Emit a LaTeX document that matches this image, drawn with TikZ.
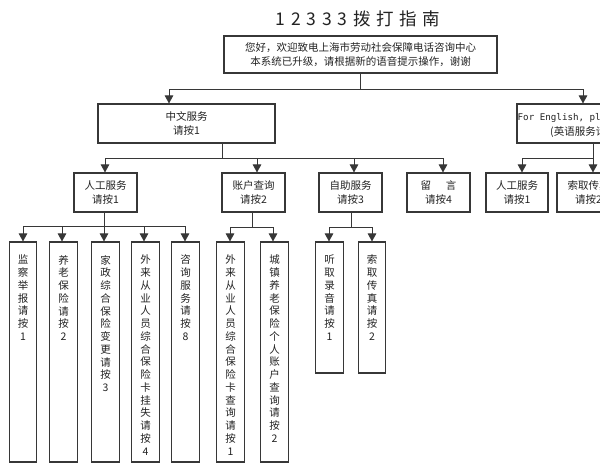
\documentclass[tikz,border=0pt]{standalone}
\usepackage{fontspec}
\setmainfont{Noto Sans CJK SC}
\newfontfamily\cjk{Noto Sans CJK SC}
\newfontfamily\engmono{DejaVu Sans Mono}
\usetikzlibrary{arrows.meta}
\definecolor{linec}{RGB}{55,55,55}
\definecolor{txtc}{RGB}{35,35,35}
\newcommand\tk{\kern5.8pt}
\begin{document}
\begin{tikzpicture}[x=1pt,y=-1pt,
  box/.style={draw=linec,line width=1.1pt,inner sep=0pt,minimum width=63pt,minimum height=39pt,align=center,text=txtc,font=\cjk\fontsize{10.5}{14}\selectfont},
  leaf/.style={draw=linec,line width=1.1pt,inner sep=0pt,minimum width=27.5pt,minimum height=220pt},
  vt/.style={inner sep=0pt,align=center,text=txtc,anchor=north,font=\cjk\fontsize{10.5}{12.75}\selectfont},
  conn/.style={draw=linec,line width=0.9pt},
  arr/.style={conn,-{Triangle[length=8pt,width=8.5pt]}}]
\useasboundingbox (0,0) rectangle (600,472);
\clip (0,0) rectangle (600,472);
\fill[white] (0,0) rectangle (600,472);

% title
\node[font=\cjk\fontsize{17.5}{17.5}\selectfont,text=txtc] (title) at (358,19) {1\tk 2\tk 3\tk 3\tk 3\tk 拨\tk 打\tk 指\tk 南};

% top box
\node[box,minimum width=273pt,minimum height=37pt] (top) at (360.5,54.5) {您好，欢迎致电上海市劳动社会保障电话咨询中心\\本系统已升级，请根据新的语音提示操作，谢谢};

% level 1
\node[box,minimum width=177pt] (cn) at (186.5,123.5) {中文服务\\请按1};
\node[box,minimum width=148pt] (en) at (591,123.5) {};
\node[anchor=west,inner sep=0pt,font=\engmono\fontsize{9.2}{10}\selectfont,text=txtc] (entxt1) at (517.5,118) {For English, ple};
\node[anchor=west,inner sep=0pt,font=\cjk\fontsize{10.5}{14}\selectfont,text=txtc] (entxt2) at (550,132) {(英语服务请};

% level 2
\node[box] (r1) at (105.5,192.5) {人工服务\\请按1};
\node[box] (r2) at (253.5,192.5) {账户查询\\请按2};
\node[box] (r3) at (350.5,192.5) {自助服务\\请按3};
\node[box] (r4) at (438.5,192.5) {留\hspace{15pt}言\\请按4};
\node[box,minimum width=62pt] (r5) at (517,192.5) {人工服务\\请按1};
\node[box] (r6) at (588.5,192.5) {索取传真\\请按2};

% leaves
\node[leaf] (L1) at (23,352) {};
\node[leaf] (L2) at (63.5,352) {};
\node[leaf] (L3) at (105.5,352) {};
\node[leaf] (L4) at (145.5,352) {};
\node[leaf] (L5) at (185.5,352) {};
\node[leaf] (L6) at (230.5,352) {};
\node[leaf] (L7) at (274.5,352) {};
\node[leaf,minimum height=131pt] (L8) at (329.5,307.5) {};
\node[leaf,minimum height=131pt] (L9) at (372,307.5) {};

\node[vt] (t1) at ([yshift=-13.5pt]L1.north) {监\\察\\举\\报\\请\\按\\1};
\node[vt] (t2) at ([yshift=-13.5pt]L2.north) {养\\老\\保\\险\\请\\按\\2};
\node[vt] (t3) at ([yshift=-13.5pt]L3.north) {家\\政\\综\\合\\保\\险\\变\\更\\请\\按\\3};
\node[vt] (t4) at ([yshift=-13.5pt]L4.north) {外\\来\\从\\业\\人\\员\\综\\合\\保\\险\\卡\\挂\\失\\请\\按\\4};
\node[vt] (t5) at ([yshift=-13.5pt]L5.north) {咨\\询\\服\\务\\请\\按\\8};
\node[vt] (t6) at ([yshift=-13.5pt]L6.north) {外\\来\\从\\业\\人\\员\\综\\合\\保\\险\\卡\\查\\询\\请\\按\\1};
\node[vt] (t7) at ([yshift=-13.5pt]L7.north) {城\\镇\\养\\老\\保\\险\\个\\人\\账\\户\\查\\询\\请\\按\\2};
\node[vt] (t8) at ([yshift=-13.5pt]L8.north) {听\\取\\录\\音\\请\\按\\1};
\node[vt] (t9) at ([yshift=-13.5pt]L9.north) {索\\取\\传\\真\\请\\按\\2};

% connectors: top -> level 1
\coordinate (j0L) at (169,89);
\coordinate (j0R) at (583,89);
\draw[conn] (top.south) -- (top.south |- j0L);
\draw[conn] (j0L) -- (j0R);
\draw[arr] (j0L) -- (j0L |- cn.north);
\draw[arr] (j0R) -- (j0R |- en.north);

% cn -> level 2
\coordinate (j1) at (222,158);
\coordinate (a1) at (105,158);
\coordinate (a2) at (257,158);
\coordinate (a3) at (354,158);
\coordinate (a4) at (443,158);
\draw[conn] (j1 |- cn.south) -- (j1);
\draw[conn] (a1) -- (a4);
\draw[arr] (a1) -- (a1 |- r1.north);
\draw[arr] (a2) -- (a2 |- r2.north);
\draw[arr] (a3) -- (a3 |- r3.north);
\draw[arr] (a4) -- (a4 |- r4.north);

% en -> level 2
\coordinate (j2) at (593,158);
\coordinate (a5) at (522,158);
\draw[conn] (j2 |- en.south) -- (j2);
\draw[conn] (a5) -- (j2);
\draw[arr] (a5) -- (a5 |- r5.north);
\draw[arr] (j2) -- (j2 |- r6.north);

% r1 -> leaves
\coordinate (j3) at (104,226);
\coordinate (b1) at (23,226);
\coordinate (b2) at (62,226);
\coordinate (b4) at (144,226);
\coordinate (b5) at (185,226);
\draw[conn] (j3 |- r1.south) -- (j3);
\draw[conn] (b1) -- (b5);
\draw[arr] (b1) -- (b1 |- L1.north);
\draw[arr] (b2) -- (b2 |- L2.north);
\draw[arr] (j3) -- (j3 |- L3.north);
\draw[arr] (b4) -- (b4 |- L4.north);
\draw[arr] (b5) -- (b5 |- L5.north);

% r2 -> leaves
\coordinate (j4) at (252,227);
\coordinate (c1) at (230,227);
\coordinate (c2) at (273,227);
\draw[conn] (j4 |- r2.south) -- (j4);
\draw[conn] (c1) -- (c2);
\draw[arr] (c1) -- (c1 |- L6.north);
\draw[arr] (c2) -- (c2 |- L7.north);

% r3 -> leaves
\coordinate (j5) at (351,227);
\coordinate (d1) at (329,227);
\coordinate (d2) at (372,227);
\draw[conn] (j5 |- r3.south) -- (j5);
\draw[conn] (d1) -- (d2);
\draw[arr] (d1) -- (d1 |- L8.north);
\draw[arr] (d2) -- (d2 |- L9.north);
\end{tikzpicture}
\end{document}
